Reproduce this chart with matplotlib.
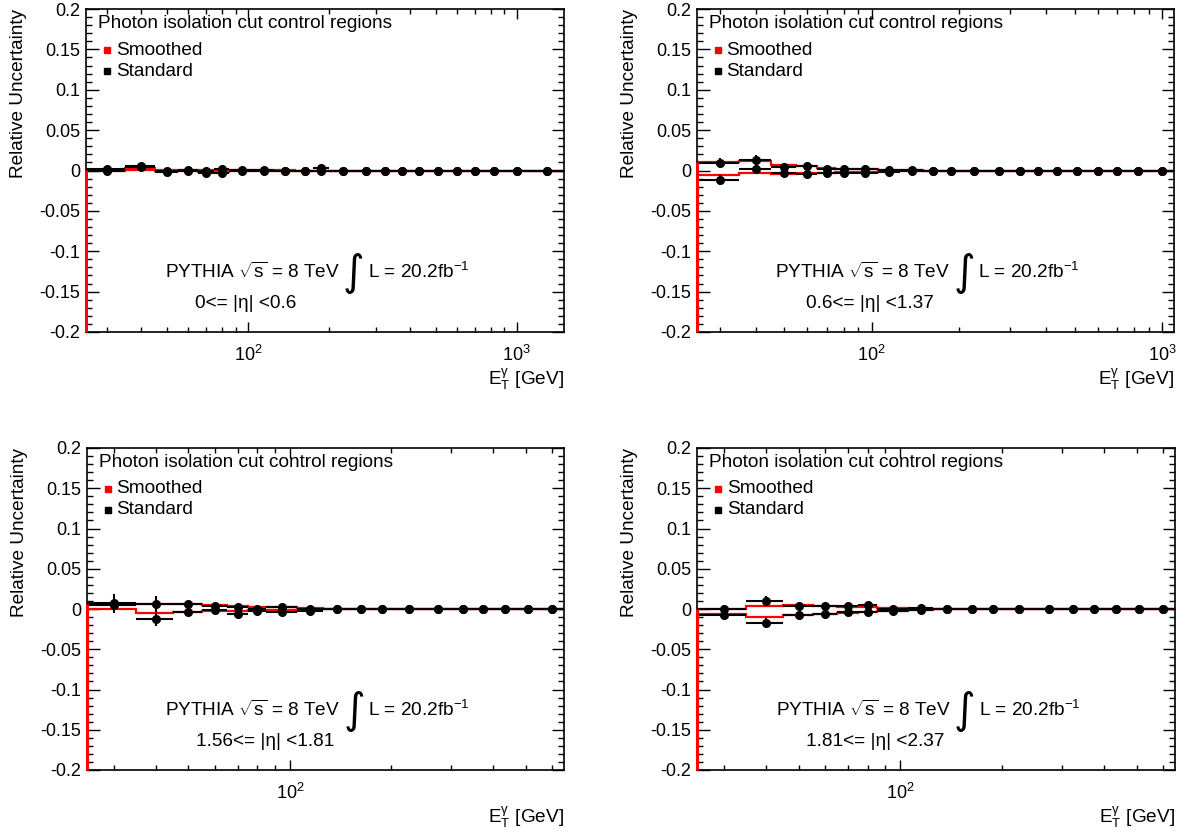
import numpy as np
import matplotlib
matplotlib.use("Agg")
import matplotlib.pyplot as plt
from matplotlib.ticker import MultipleLocator, FuncFormatter, NullFormatter, LogLocator

plt.rcParams['font.family'] = ['Liberation Sans', 'DejaVu Sans']
plt.rcParams['mathtext.fontset'] = 'custom'
plt.rcParams['mathtext.rm'] = 'Liberation Sans'
plt.rcParams['mathtext.it'] = 'Liberation Sans:italic'
plt.rcParams['mathtext.default'] = 'regular'

# photon E_T bin edges (GeV)
edges_06 = [25, 35, 45, 55, 65, 75, 85, 105, 125, 150, 175, 200, 250, 300, 350, 400,
            470, 550, 650, 750, 900, 1100, 1500]
edges_137 = edges_06[:-1]
edges_181 = edges_06[:19]
edges_237 = edges_06[:19]

# |eta| < 0.6
smooth_up_06 = [0.001, 0.0025, 0.001, 0.001, 0.0008, 0.0008, 0.0005, 0.0005, 0.0002, 0, 0, 0,
                0, 0, 0, 0, 0, 0, 0, 0, 0, 0]
smooth_dn_06 = [0.0, 0.001, -0.001, -0.001, -0.0015, -0.0015, -0.001, -0.001, -0.0005, -0.0003,
                0, 0, 0, 0, 0, 0, 0, 0, 0, 0, 0, 0]
std_up_06 = [0.002, 0.005, 0.0, 0.001, 0.0, 0.002, 0.001, 0.001, 0.0, 0.0, 0.003, 0.0,
             0, 0, 0, 0, 0, 0, 0, 0, 0, 0]
std_dn_06 = [-0.001, 0.004, -0.002, -0.001, -0.003, -0.003, -0.001, -0.001, 0.0, -0.0005, 0.0, 0,
             0, 0, 0, 0, 0, 0, 0, 0, 0, 0]
err_up_06 = [0.002, 0.002, 0.001, 0.001, 0.001, 0.001, 0.001, 0.001, 0.0005, 0.0005, 0.001, 0.0005,
             0.0005, 0.0005, 0.0005, 0.0005, 0.0005, 0.0005, 0.0005, 0.0005, 0.0005, 0.0005]
err_dn_06 = err_up_06

# 0.6 <= |eta| < 1.37
smooth_up_137 = [0.0104, 0.0117, 0.007, 0.005, 0.003, 0.002, 0.0017, 0.001, 0.0005, 0, 0, 0,
                 0, 0, 0, 0, 0, 0, 0, 0, 0]
smooth_dn_137 = [-0.006, -0.003, -0.004, -0.0035, -0.0025, -0.002, -0.0017, -0.001, -0.0005, 0, 0, 0,
                 0, 0, 0, 0, 0, 0, 0, 0, 0]
std_up_137 = [0.0096, 0.013, 0.004, 0.005, 0.002, 0.0017, 0.0017, 0.001, 0.0005, 0, 0, 0,
              0, 0, 0, 0, 0, 0, 0, 0, 0]
std_dn_137 = [-0.012, 0.0017, -0.003, -0.0045, -0.003, -0.0037, -0.0025, -0.0017, -0.0005, 0, 0, 0,
              0, 0, 0, 0, 0, 0, 0, 0, 0]
err_up_137 = [0.006, 0.006, 0.002, 0.002, 0.0015, 0.0015, 0.001, 0.001, 0.0005, 0.0005, 0.0005, 0.0005,
              0.0005, 0.0005, 0.0005, 0.0005, 0.0005, 0.0005, 0.0005, 0.0005, 0.0005]
err_dn_137 = [0.006, 0.003, 0.002, 0.002, 0.0015, 0.0015, 0.001, 0.001, 0.0005, 0.0005, 0.0005, 0.0005,
              0.0005, 0.0005, 0.0005, 0.0005, 0.0005, 0.0005, 0.0005, 0.0005, 0.0005]

# 1.56 <= |eta| < 1.81
smooth_up_181 = [0.006, 0.006, 0.006, 0.0045, 0.004, 0.003, 0.002, 0.001, 0.0005,
                 0, 0, 0, 0, 0, 0, 0, 0, 0]
smooth_dn_181 = [0.0, -0.0055, -0.004, -0.002, -0.002, -0.001, -0.001, -0.0005, 0,
                 0, 0, 0, 0, 0, 0, 0, 0, 0]
std_up_181 = [0.007, 0.006, 0.006, 0.004, 0.003, 0.0, 0.003, 0.0005, 0.0,
              0, 0, 0, 0, 0, 0, 0, 0, 0]
std_dn_181 = [0.005, -0.0125, -0.004, -0.001, -0.006, -0.002, -0.004, -0.0025, -0.0005,
              0, 0, 0, 0, 0, 0, 0, 0, 0]
err_up_181 = [0.012, 0.01, 0.002, 0.002, 0.0015, 0.001, 0.001, 0.001, 0.0005,
              0.0005, 0.0005, 0.0005, 0.0005, 0.0005, 0.0005, 0.0005, 0.0005, 0.0005]
err_dn_181 = [0.004, 0.008, 0.002, 0.002, 0.0015, 0.001, 0.001, 0.001, 0.0005,
              0.0005, 0.0005, 0.0005, 0.0005, 0.0005, 0.0005, 0.0005, 0.0005, 0.0005]

# 1.81 <= |eta| < 2.37
smooth_up_237 = [0.0, 0.004, 0.005, 0.004, 0.003, 0.002, 0.001, 0.0005, 0,
                 0, 0, 0, 0, 0, 0, 0, 0, 0]
smooth_dn_237 = [-0.006, -0.0095, -0.008, -0.006, -0.005, -0.004, -0.002, -0.001, 0,
                 0, 0, 0, 0, 0, 0, 0, 0, 0]
std_up_237 = [0.0, 0.010, 0.004, 0.0035, 0.0035, 0.0045, 0.0, 0.001, 0.0,
              0, 0, 0, 0, 0, 0, 0, 0, 0]
std_dn_237 = [-0.007, -0.017, -0.008, -0.006, -0.004, -0.004, -0.002, -0.001, 0.0,
              0, 0, 0, 0, 0, 0, 0, 0, 0]
err_up_237 = [0.005, 0.006, 0.002, 0.002, 0.0015, 0.0015, 0.001, 0.001, 0.0005,
              0.0005, 0.0005, 0.0005, 0.0005, 0.0005, 0.0005, 0.0005, 0.0005, 0.0005]
err_dn_237 = [0.005, 0.006, 0.002, 0.002, 0.0015, 0.0015, 0.001, 0.001, 0.0005,
              0.0005, 0.0005, 0.0005, 0.0005, 0.0005, 0.0005, 0.0005, 0.0005, 0.0005]

eta_labels = ["0<= |η| <0.6", "0.6<= |η| <1.37", "1.56<= |η| <1.81", "1.81<= |η| <2.37"]

W, H = 1191, 835
fig = plt.figure(figsize=(W / 100, H / 100), dpi=100)

# axes boxes in pixels: left, top, right, bottom
boxes = [(86, 9, 564, 332), (697, 9, 1174, 332), (87, 448, 564, 770), (697, 448, 1175, 770)]

panels = [
    (edges_06, smooth_up_06, smooth_dn_06, std_up_06, std_dn_06, err_up_06, err_dn_06),
    (edges_137, smooth_up_137, smooth_dn_137, std_up_137, std_dn_137, err_up_137, err_dn_137),
    (edges_181, smooth_up_181, smooth_dn_181, std_up_181, std_dn_181, err_up_181, err_dn_181),
    (edges_237, smooth_up_237, smooth_dn_237, std_up_237, std_dn_237, err_up_237, err_dn_237),
]

fs = 13.7


def yfmt(v, pos):
    if abs(v) < 1e-9:
        return '0'
    return '%g' % round(v, 3)


for (l, t, r, b), (edges, s_up, s_dn, d_up, d_dn, e_up, e_dn), eta in zip(boxes, panels, eta_labels):
    ax = fig.add_axes([l / W, (H - b) / H, (r - l) / W, (b - t) / H])
    edges = np.array(edges, dtype=float)
    centers = 0.5 * (edges[:-1] + edges[1:])
    half = 0.5 * (edges[1:] - edges[:-1])

    # smoothed (red steps)
    ax.stairs(s_up, edges, color='red', lw=1.6, zorder=2)
    ax.stairs(s_dn, edges, color='red', lw=1.6, zorder=2)
    ax.vlines(edges[0], -0.2, max(s_up[0], s_dn[0]), color='red', lw=2.2, clip_on=False, zorder=6)

    # standard (black points)
    for vals, errs in ((d_up, e_up), (d_dn, e_dn)):
        ax.errorbar(centers, vals, xerr=half, yerr=errs, fmt='o', color='black',
                    ms=5.5, lw=1.5, capsize=0, zorder=3)

    ax.set_xscale('log')
    ax.set_xlim(edges[0], edges[-1])
    ax.set_ylim(-0.2, 0.2)
    ax.xaxis.set_major_locator(LogLocator(base=10))
    ax.xaxis.set_minor_locator(LogLocator(base=10, subs=np.arange(2, 10)))
    ax.xaxis.set_minor_formatter(NullFormatter())
    ax.yaxis.set_major_locator(MultipleLocator(0.05))
    ax.yaxis.set_minor_locator(MultipleLocator(0.01))
    ax.yaxis.set_major_formatter(FuncFormatter(yfmt))
    ax.tick_params(which='both', direction='in', top=True, right=True, labelsize=13, width=1)
    ax.xaxis.set_tick_params(which='major', length=7, pad=9)
    ax.xaxis.set_tick_params(which='minor', length=3.6)
    ax.yaxis.set_tick_params(which='major', length=9, pad=4)
    ax.yaxis.set_tick_params(which='minor', length=4.5)
    for sp in ax.spines.values():
        sp.set_linewidth(1.2)

    ax.text(-0.142, 1.0, "Relative Uncertainty", rotation=90, ha='center', va='top',
            fontsize=fs, transform=ax.transAxes)
    ax.text(1.0, -0.146, r"E$_T^{\gamma}$ [GeV]", ha='right', va='center',
            fontsize=fs, transform=ax.transAxes)

    ax.text(0.025, 0.954, "Photon isolation cut control regions", ha='left', va='center',
            fontsize=fs, transform=ax.transAxes)
    ax.plot([0.044], [0.873], 's', color='red', ms=4.5, transform=ax.transAxes)
    ax.text(0.062, 0.873, "Smoothed", ha='left', va='center', fontsize=fs, transform=ax.transAxes)
    ax.plot([0.044], [0.808], 's', color='black', ms=4.5, transform=ax.transAxes)
    ax.text(0.062, 0.808, "Standard", ha='left', va='center', fontsize=fs, transform=ax.transAxes)

    ax.text(0.531, 0.186, r"PYTHIA $\sqrt{s}$ = 8 TeV", ha='right', va='center',
            fontsize=fs, transform=ax.transAxes)
    ax.text(0.56, 0.183, "∫", ha='center', va='center', fontsize=30,
            family='DejaVu Sans', transform=ax.transAxes)
    ax.text(0.59, 0.186, r"L = 20.2fb$^{-1}$", ha='left', va='center',
            fontsize=fs, transform=ax.transAxes)
    ax.text(0.228, 0.087, eta, ha='left', va='center', fontsize=fs, transform=ax.transAxes)

fig.savefig("out.png", dpi=100)
